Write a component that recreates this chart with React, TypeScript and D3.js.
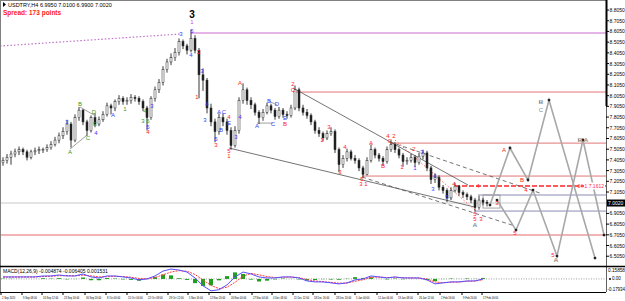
import React from 'react';
import * as d3 from 'd3';

// USDTRY H4, one entry per plotted bar (closes, highs, lows)
const firstOpen = 7.38;
const closes = [
  7.40, 7.43, 7.46, 7.48, 7.50, 7.48, 7.43, 7.48, 7.49, 7.50,
  7.50, 7.52, 7.55, 7.59, 7.63, 7.67, 7.74, 7.59, 7.80, 7.87,
  7.76, 7.68, 7.80, 7.74, 7.78, 7.83, 7.91, 7.89, 7.95, 7.98,
  7.95, 7.96, 7.99, 7.98, 7.95, 7.89, 7.80, 7.98, 8.06, 8.13,
  8.25, 8.32, 8.36, 8.41, 8.51, 8.47, 8.43, 8.54, 8.43, 8.20,
  8.15, 7.89, 7.76, 7.67, 7.80, 7.76, 7.68, 7.54, 7.68, 7.96,
  8.06, 7.96, 7.92, 7.85, 7.80, 7.85, 7.91, 7.87, 7.81, 7.87,
  7.83, 7.82, 7.89, 8.06, 7.89, 7.85, 7.82, 7.76, 7.68, 7.65,
  7.61, 7.65, 7.67, 7.50, 7.36, 7.42, 7.48, 7.42, 7.40, 7.33,
  7.27, 7.40, 7.50, 7.45, 7.42, 7.39, 7.50, 7.55, 7.50, 7.45,
  7.39, 7.40, 7.43, 7.38, 7.44, 7.47, 7.33, 7.22, 7.24, 7.15,
  7.12, 7.05, 7.12, 7.16, 7.10, 7.08, 7.06, 7.03, 6.96, 7.03,
  7.01, 7.00,
];
const highs = [
  7.43, 7.46, 7.49, 7.51, 7.53, 7.52, 7.50, 7.50, 7.52, 7.53,
  7.52, 7.55, 7.58, 7.62, 7.66, 7.71, 7.78, 7.76, 7.83, 7.90,
  7.88, 7.78, 7.82, 7.84, 7.81, 7.86, 7.94, 7.93, 7.97, 8.01,
  8.00, 7.99, 8.02, 8.01, 8.00, 7.97, 7.91, 8.00, 8.09, 8.16,
  8.28, 8.35, 8.40, 8.45, 8.54, 8.53, 8.49, 8.62, 8.57, 8.45,
  8.26, 8.17, 7.93, 7.79, 7.84, 7.84, 7.79, 7.71, 7.72, 7.99,
  8.12, 8.08, 7.99, 7.94, 7.87, 7.88, 7.94, 7.93, 7.89, 7.90,
  7.89, 7.86, 7.92, 8.10, 8.08, 7.92, 7.88, 7.84, 7.78, 7.71,
  7.67, 7.68, 7.71, 7.69, 7.52, 7.45, 7.51, 7.50, 7.45, 7.42,
  7.35, 7.43, 7.55, 7.52, 7.47, 7.44, 7.53, 7.59, 7.57, 7.52,
  7.47, 7.43, 7.46, 7.45, 7.47, 7.50, 7.49, 7.35, 7.28, 7.26,
  7.17, 7.14, 7.15, 7.19, 7.17, 7.12, 7.10, 7.08, 7.05, 7.07,
  7.05, 7.03,
];
const lows = [
  7.35, 7.37, 7.36, 7.43, 7.45, 7.45, 7.40, 7.41, 7.45, 7.46,
  7.47, 7.48, 7.50, 7.53, 7.56, 7.60, 7.64, 7.52, 7.57, 7.77,
  7.73, 7.63, 7.66, 7.71, 7.72, 7.76, 7.81, 7.83, 7.86, 7.92,
  7.92, 7.92, 7.93, 7.95, 7.92, 7.86, 7.68, 7.78, 7.95, 8.03,
  8.10, 8.22, 8.29, 8.33, 8.38, 8.44, 8.39, 8.41, 8.40, 7.98,
  8.05, 7.84, 7.72, 7.57, 7.64, 7.72, 7.64, 7.50, 7.52, 7.65,
  7.93, 7.92, 7.88, 7.82, 7.74, 7.77, 7.83, 7.84, 7.78, 7.79,
  7.80, 7.79, 7.80, 7.87, 7.86, 7.82, 7.79, 7.73, 7.65, 7.62,
  7.58, 7.59, 7.63, 7.47, 7.29, 7.33, 7.39, 7.40, 7.37, 7.30,
  7.24, 7.26, 7.38, 7.42, 7.39, 7.35, 7.37, 7.48, 7.47, 7.42,
  7.34, 7.36, 7.38, 7.34, 7.36, 7.41, 7.30, 7.18, 7.19, 7.12,
  7.09, 7.01, 7.03, 7.10, 7.07, 7.05, 7.03, 7.00, 6.92, 6.94,
  6.98, 6.97,
];
const currentPrice = 7.002;

const priceTicks = [
  8.805, 8.705, 8.605, 8.505, 8.405, 8.305, 8.205, 8.105, 8.005, 7.905,
  7.805, 7.705, 7.605, 7.505, 7.405, 7.305, 7.205, 7.105, 6.905, 6.805,
  6.705, 6.605, 6.505,
];

const timeLabels = [
  '2 Sep 2020', '9 Sep 08:00', '16 Sep 12:00', '23 Sep 16:00', '30 Sep 20:00',
  '8 Oct 00:00', '15 Oct 04:00', '22 Oct 08:00', '29 Oct 12:00', '5 Nov 16:00',
  '12 Nov 20:00', '20 Nov 00:00', '27 Nov 04:00', '4 Dec 08:00', '11 Dec 12:00',
  '18 Dec 16:00', '28 Dec 20:00', '5 Jan 00:00', '12 Jan 04:00', '19 Jan 08:00',
  '26 Jan 12:00', '2 Feb 16:00', '9 Feb 20:00', '17 Feb 00:00',
];
const timeBars = [
  -0.5, 4.75, 9.75, 15, 20.5, 25.75, 31, 36, 41.25, 46.25, 51.5, 56.75,
  62.25, 67.25, 72.5, 77.5, 83, 88, 93.5, 98.5, 103.75, 109.25, 114.75, 119.75,
];

// MACD(12,26,9), one value every second bar
const macdMain = [
  0.029, 0.029, 0.029, 0.029, 0.029, 0.043, 0.043, 0.057, 0.043, 0.043,
  0.072, 0.029, 0.014, 0.043, 0.043, 0.029, 0.014, -0.014, 0.000, 0.043,
  0.114, 0.143, 0.129, 0.100, 0.014, -0.100, -0.172, -0.157, -0.086, 0.029,
  0.100, 0.072, 0.029, 0.014, 0.014, 0.029, 0.029, 0.014, -0.029, -0.043,
  -0.043, -0.057, -0.072, -0.057, -0.014, 0.000, 0.043, 0.029, 0.014, 0.029,
  0.014, 0.014, 0.014, -0.014, -0.072, -0.057, -0.043, -0.043, -0.029, -0.029,
  0.000,
];
const macdSignal = [
  0.025, 0.027, 0.028, 0.029, 0.029, 0.034, 0.039, 0.047, 0.048, 0.045,
  0.055, 0.045, 0.030, 0.032, 0.038, 0.035, 0.025, 0.008, 0.002, 0.018,
  0.060, 0.100, 0.120, 0.112, 0.065, -0.015, -0.095, -0.140, -0.120, -0.050,
  0.040, 0.080, 0.060, 0.035, 0.020, 0.024, 0.028, 0.020, -0.010, -0.030,
  -0.040, -0.050, -0.062, -0.060, -0.035, -0.012, 0.022, 0.028, 0.020, 0.024,
  0.018, 0.015, 0.014, 0.000, -0.045, -0.055, -0.048, -0.044, -0.035, -0.031,
  -0.012,
];
const macdTicks = ['0.15858', '0.00', '-0.17934'];

// horizontal levels: [price, first bar]
const peakLevel = [8.591, 47];
const redLevels = [[8.039, 72.5], [7.562, 96.75], [7.254, 89.75]];
const fiboLevel = [7.161, 113];
const blueLevels = [[7.077, 118.75], [6.927, 118]];
const pinkLevel = [6.703, -1];

// trend lines: [bar, price, bar, price]
const solidTrends = [
  [56.5, 7.516, 118, 6.964],
  [72.5, 8.077, 116.25, 7.170],
];
const dashedTrends = [
  [96.75, 7.572, 134.25, 7.095],
  [89.75, 7.245, 128, 6.787],
];
const redDotTrend = [98, 7.591, 118, 6.936];
const dottedRise = [-0.75, 8.469, 44.25, 8.581];
const triangles = [
  [16.75, 7.506, 21, 7.637], [19.25, 7.899, 22.75, 7.824],
  [63.5, 7.749, 67.5, 7.749], [66.5, 7.955, 68.5, 7.917],
];
const boxRange = [120, 7.077, 124.25, 6.955];

// forecast paths: [bar, price]
const forecastA = [[121.75, 6.983], [126.75, 7.516], [131.25, 7.217], [136.5, 7.964], [148, 6.488]];
const forecastB = [[123.5, 7.030], [128.25, 6.749], [132.5, 7.123], [138.5, 6.506], [145, 7.591], [150.25, 6.703]];

// wave labels: [bar, price, text, colour key]
const waveLabels = [
  [16, 7.759, '3', 'b'], [16.75, 7.478, 'A', 'g'], [19.25, 7.927, 'B', 'g'],
  [21.25, 7.609, 'C', 'g'], [22.75, 7.852, 'D', 'g'], [23, 7.740, 'E', 'g'],
  [23.25, 7.656, '4', 'b'], [27.5, 7.824, 'A', 'b'], [30.5, 7.880, '1', 'g'],
  [35.5, 7.862, '4', 'g'], [35, 7.768, '3', 'g'], [36.25, 7.768, '5', 'g'],
  [36.25, 7.712, '5', 'b'], [36.25, 7.665, '4', 'r'], [37.25, 7.908, '3', 'b'],
  [44.5, 8.581, '3', 'b'], [47, 8.385, '4', 'b'], [47.25, 8.609, '5', 'b'],
  [48.5, 7.992, '1', 'r'], [49, 8.413, '2', 'r'], [49.75, 8.235, '3', 'b'],
  [51, 7.927, '4', 'b'], [50.5, 7.777, '3', 'b'], [53.25, 7.600, '5', 'b'],
  [53.25, 7.544, '3', 'r'], [54, 7.852, 'A', 'b'], [55.25, 7.852, 'C', 'b'],
  [54.5, 7.684, 'B', 'b'], [56.5, 7.805, '4', 'r'], [56.5, 7.749, 'E', 'b'],
  [56.5, 7.488, '5', 'r'], [56.5, 7.441, '1', 'r'], [58.25, 7.619, '3', 'b'],
  [59.25, 7.805, '4', 'b'], [59.25, 8.123, 'A', 'r'], [63.5, 7.721, 'A', 'b'],
  [66.5, 7.955, 'B', 'b'], [68.5, 7.927, 'D', 'b'], [67.5, 7.740, 'C', 'b'],
  [70.5, 7.796, 'E', 'b'], [70.5, 7.740, 'B', 'r'], [72.5, 8.114, '2', 'r'],
  [72.5, 8.058, 'C', 'r'], [79.75, 7.591, '1', 'r'], [81.5, 7.712, '3', 'r'],
  [84.25, 7.292, '3', 'r'], [85.5, 7.525, '4', 'r'], [89.75, 7.226, '5', 'r'],
  [89.5, 7.179, '3', 'r'], [90.75, 7.179, '1', 'r'], [92, 7.563, 'A', 'r'],
  [95, 7.348, 'B', 'r'], [96.75, 7.581, 'C', 'r'], [96.25, 7.628, '4', 'r'],
  [97.75, 7.628, '2', 'r'], [99.75, 7.338, '1', 'r'], [102.75, 7.506, '2', 'r'],
  [103, 7.329, '1', 'b'], [104.75, 7.478, '3', 'b'], [108, 7.254, '4', 'b'],
  [107.5, 7.133, '3', 'b'], [111, 7.058, '5', 'b'], [112.75, 7.179, '4', 'r'],
  [118, 6.899, '5', 'r'], [118, 6.852, '5', 'r'], [119.5, 6.852, '3', 'r'],
  [118, 6.796, 'A', 'k'], [118.75, 7.161, '4', 'r'], [123.5, 7.002, '3', 'r'],
  [125.25, 7.497, 'A', 'r'], [129.75, 7.217, 'B', 'r'], [130.75, 7.123, '4', 'r'],
  [128, 6.721, '5', 'r'], [134.5, 7.946, 'B', 'k'], [134.5, 7.871, 'C', 'x'],
  [137.5, 6.516, '5', 'r'], [138.25, 6.469, 'A', 'k'], [144.25, 7.591, 'B', 'k'],
  [145.75, 7.591, 'A', 'k'],
];
const labelColors = { r: '#ff2020', b: '#3a3aff', g: '#2c9a2c', k: '#000000', x: '#8a8a8a' };

const x = d3.scaleLinear().domain([0, 150]).range([3, 603]);
const y = d3.scaleLinear().domain([6.451, 8.899]).range([262, 0]);
const ym = d3.scaleLinear().domain([-0.175, 0.1585]).range([291, 268]);

const App = () => {
  const axisX = 606;
  const opens = closes.map((c, i) => (i === 0 ? firstOpen : closes[i - 1]));
  const seg = (t, stroke, width, dash?) => (
    <line x1={x(t[0])} y1={y(t[1])} x2={x(t[2])} y2={y(t[3])}
      stroke={stroke} strokeWidth={width} strokeDasharray={dash} />
  );
  const hline = (lv, stroke, width, dash?) => (
    <line x1={Math.max(1, x(lv[1]))} x2={axisX} y1={y(lv[0])} y2={y(lv[0])}
      stroke={stroke} strokeWidth={width} strokeDasharray={dash} />
  );
  const pathLine = d3.line().x(d => x(d[0])).y(d => y(d[1]));
  const macdLine = d3.line().x((d, k) => x(k * 2)).y(d => ym(d));

  return (
    <svg width={625} height={301} style={{ position: 'absolute', left: 0, top: 0, background: '#fff' }}
      fontFamily="Liberation Sans, Arial, sans-serif">
      <defs>
        <clipPath id="main"><rect x={1} y={1} width={axisX - 1} height={265} /></clipPath>
      </defs>
      {/* frame */}
      <line x1={0} x2={axisX} y1={0.5} y2={0.5} stroke="#808080" />
      <line x1={0.5} x2={0.5} y1={0} y2={292} stroke="#808080" />

      <g clipPath="url(#main)">
        {/* levels */}
        <line x1={0} x2={axisX} y1={y(currentPrice)} y2={y(currentPrice)} stroke="#c8c8c8" strokeWidth={1} />
        {hline(pinkLevel, '#f2b4b4', 2)}
        {hline(peakLevel, '#e4b4e8', 2)}
        {redLevels.map((lv, k) => <g key={k}>{hline(lv, '#e07676', 1)}</g>)}
        {hline(fiboLevel, '#ff5a5a', 2, '5,2')}
        {blueLevels.map((lv, k) => <g key={k}>{hline(lv, '#8a8ab8', 1)}</g>)}
        {seg(dottedRise, '#c070c8', 1.2, '1.5,2')}

        {/* trend lines */}
        {solidTrends.map((t, k) => <g key={k}>{seg(t, '#505050', 0.8)}</g>)}
        {dashedTrends.map((t, k) => <g key={k}>{seg(t, '#505050', 0.8, '4,3')}</g>)}
        {seg(redDotTrend, '#ff6060', 1, '1.5,2')}
        {triangles.map((t, k) => <g key={k}>{seg(t, '#606060', 0.6)}</g>)}
        <rect x={x(boxRange[0])} y={y(boxRange[1])} width={x(boxRange[2]) - x(boxRange[0])}
          height={y(boxRange[3]) - y(boxRange[1])} fill="none" stroke="#909090" strokeWidth={0.8} />

        {/* bars */}
        {closes.map((c, i) => {
          const o = opens[i];
          const top = y(Math.max(o, c));
          const h = Math.max(1, y(Math.min(o, c)) - top);
          return (
            <g key={i}>
              <line x1={x(i)} x2={x(i)} y1={y(highs[i])} y2={y(lows[i])} stroke="#222" strokeWidth={0.9} />
              <rect x={x(i) - 1} y={top} width={2} height={h} fill={c >= o ? '#fff' : '#222'} stroke="#222" strokeWidth={0.5} />
            </g>
          );
        })}

        {/* forecasts */}
        {[forecastA, forecastB].map((f, k) => (
          <g key={k}>
            <path d={pathLine(f)} fill="none" stroke="#a8a8a8" strokeWidth={1.6} />
            {f.map((d, j) => <circle key={j} cx={x(d[0])} cy={y(d[1])} r={1.4} fill="#222" />)}
          </g>
        ))}

        {/* wave labels */}
        {waveLabels.map((l, k) => (
          <text key={k} x={x(l[0])} y={y(l[1])} fill={labelColors[l[3]]} fontSize={6}
            textAnchor="middle" dominantBaseline="central" fontWeight={l[3] === 'k' ? 'bold' : 'normal'}
            stroke={l[3] === 'k' ? '#fff' : 'none'} strokeWidth={0.3}>{l[2]}</text>
        ))}
        <text x={x(47.25)} y={y(8.768)} fontSize={10} fontWeight="bold" textAnchor="middle"
          dominantBaseline="central" fill="#000">3</text>
        <text x={x(47.25)} y={y(8.69)} fontSize={6} textAnchor="middle" dominantBaseline="central" fill="#c050c0">1</text>

        {/* fibo tag */}
        <rect x={584} y={y(fiboLevel[0]) - 3.5} width={21} height={7} fill="#fff" />
        <text x={604} y={y(fiboLevel[0])} fontSize={5} fill="#ff3030" textAnchor="end" dominantBaseline="central">34.1 7.1612</text>
      </g>

      {/* header */}
      <path d="M3,2 L6,4.5 L3,7 Z" fill="#000" />
      <text x={8} y={7} fontSize={5.5} fill="#000">USDTRY,H4  6.9950 7.0100 6.9900 7.0020</text>
      <text x={3} y={15} fontSize={6.5} fontWeight="bold" fill="#ff2020">Spread: 173 points</text>

      {/* price axis */}
      <line x1={axisX + 0.5} x2={axisX + 0.5} y1={0} y2={292} stroke="#606060" />
      <line x1={axisX + 0.5} x2={axisX + 0.5} y1={0} y2={106} stroke="#000" strokeWidth={2} />
      {priceTicks.map((p, k) => (
        <g key={k}>
          <line x1={axisX} x2={axisX + 3} y1={y(p)} y2={y(p)} stroke="#000" />
          <text x={axisX + 3.5} y={y(p)} fontSize={5} dominantBaseline="central" fill="#000">{p.toFixed(4)}</text>
        </g>
      ))}
      <rect x={axisX + 1} y={y(currentPrice) - 3.5} width={18} height={7} fill="#000" />
      <text x={axisX + 2} y={y(currentPrice)} fontSize={5} fill="#fff" dominantBaseline="central">{currentPrice.toFixed(4)}</text>

      {/* indicator window */}
      <line x1={0} x2={625} y1={266.5} y2={266.5} stroke="#000" strokeWidth={1.5} />
      <text x={3} y={273} fontSize={5} fill="#000">MACD(12,26,9) -0.004874 -0.006405 0.001531</text>
      <line x1={1} x2={axisX} y1={ym(0)} y2={ym(0)} stroke="#a0a0a0" strokeDasharray="1,1.5" />
      {macdMain.map((v, k) => {
        const d = v - macdSignal[k];
        const y0 = ym(0), y1 = ym(d * 1.2);
        return <rect key={k} x={x(k * 2) - 2} width={4} y={Math.min(y0, y1)} height={Math.abs(y1 - y0)} fill="#1ea01e" />;
      })}
      <path d={macdLine(macdSignal)} fill="none" stroke="#ff4040" strokeWidth={1} strokeDasharray="2,1" />
      <path d={macdLine(macdMain)} fill="none" stroke="#5a4dff" strokeWidth={1} />
      <text x={axisX + 2} y={270} fontSize={4.5} dominantBaseline="central" textLength={17} lengthAdjust="spacingAndGlyphs">{macdTicks[0]}</text>
      <circle cx={axisX + 4} cy={ym(0)} r={1} fill="#000" />
      <text x={axisX + 6} y={ym(0)} fontSize={4.5} dominantBaseline="central">{macdTicks[1]}</text>
      <text x={axisX + 1.5} y={289.5} fontSize={4.5} dominantBaseline="central" textLength={17.5} lengthAdjust="spacingAndGlyphs">{macdTicks[2]}</text>

      {/* time axis */}
      <line x1={0} x2={axisX} y1={292.5} y2={292.5} stroke="#000" />
      {timeLabels.map((t, k) => {
        const tx = Math.max(1, x(timeBars[k]));
        return (
          <g key={k}>
            <line x1={tx} x2={tx} y1={292} y2={295} stroke="#000" />
            <g transform={`translate(${tx + 1},299) scale(0.6,1)`}>
              <text x={0} y={0} fontSize={4.3} fill="#000">{t}</text>
            </g>
          </g>
        );
      })}
    </svg>
  );
};

export default App;
